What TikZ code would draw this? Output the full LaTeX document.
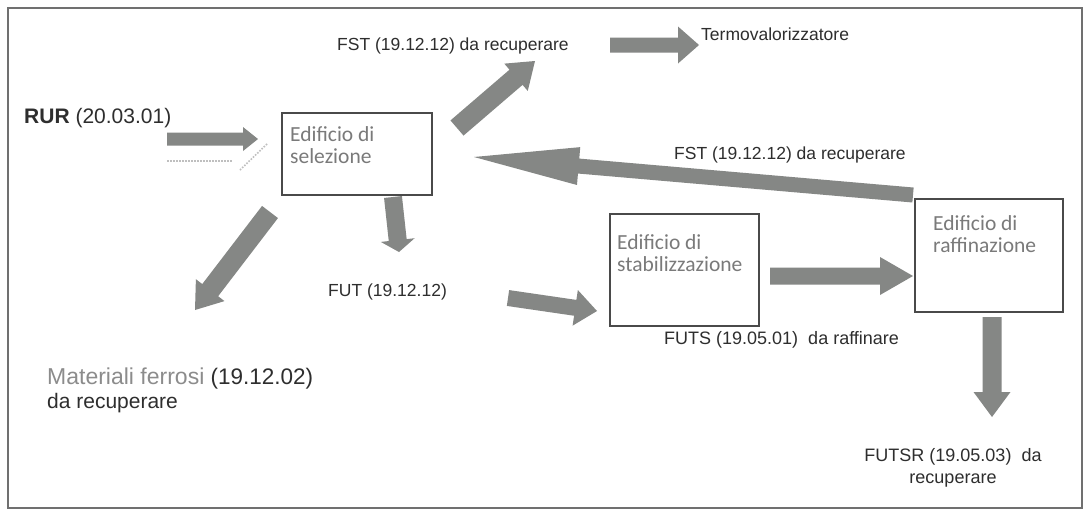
\documentclass[tikz,border=0pt]{standalone}
\usepackage{fontspec}
\setmainfont{Liberation Sans}
\newfontfamily\boxfont{Carlito}
\usetikzlibrary{calc}
\definecolor{arrowgray}{HTML}{858785}
\definecolor{boxline}{HTML}{4A4A4A}
\definecolor{framegray}{HTML}{707070}
\definecolor{txt}{HTML}{2E2E2E}
\definecolor{boxtxt}{HTML}{7A7A7A}
\definecolor{lighttxt}{HTML}{8C8C8C}
\newcommand\blockarrow[5]{%
  \coordinate (bh) at ($(#2)!#5!(#1)$);
  \fill[arrowgray] ($(#1)!#3!90:(#2)$) -- ($(bh)!#3!90:(#2)$) -- ($(bh)!#4!90:(#2)$) -- (#2)
    -- ($(bh)!#4!-90:(#2)$) -- ($(bh)!#3!-90:(#2)$) -- ($(#1)!#3!-90:(#2)$) -- cycle;
}
\tikzset{
  boxnode/.style={draw=boxline, line width=2.6pt, inner sep=0},
  lbl/.style={font=\fontsize{17.5}{21}\selectfont, text=txt, inner sep=0, anchor=west},
  biglbl/.style={font=\fontsize{21}{25}\selectfont, text=txt, inner sep=0, anchor=west},
  boxtext/.style={font=\boxfont\fontsize{21.5}{22}\selectfont, text=boxtxt, inner sep=0, anchor=north west, align=left},
  scanmark/.style={draw=gray!50, line width=1.6pt, dash pattern=on 1.5pt off 1.5pt}
}
\begin{document}
\begin{tikzpicture}[x=1pt,y=-1pt]
\useasboundingbox (0,0) rectangle (1090,512);
\fill[white] (0,0) rectangle (1090,512);
\draw[framegray, line width=1.5pt] (8,8) rectangle (1082,508);

% boxes
\node[boxnode, minimum width=150pt, minimum height=82pt] (sel) at (357,154) {};
\node[boxnode, minimum width=149pt, minimum height=112pt] (stab) at (684.5,270) {};
\node[boxnode, minimum width=148pt, minimum height=113pt] (raff) at (989,255.5) {};
\node[boxtext] (selt) at (290,126) {Edificio di\\selezione};
\node[boxtext] (stabt) at (617,234) {Edificio di\\stabilizzazione};
\node[boxtext] (rafft) at (933,215) {Edificio di\\raffinazione};

% labels
\node[lbl] (fst1) at (337,46) {FST (19.12.12) da recuperare};
\node[lbl] (termo) at (701,34) {Termovalorizzatore};
\node[biglbl] (rur) at (24,118) {\textbf{RUR} (20.03.01)};
\node[lbl] (fst2) at (674,155) {FST (19.12.12) da recuperare};
\node[lbl] (fut) at (328,292) {FUT (19.12.12)};
\node[biglbl, font=\fontsize{22.5}{25}\selectfont] (mat1) at (47,378) {{\color{lighttxt}\fontsize{23}{25}\selectfont Materiali ferrosi}\ (19.12.02)};
\node[biglbl] (mat2) at (47,403) {da recuperare};
\node[lbl, font=\fontsize{18}{21}\selectfont] (futs) at (664,340) {FUTS (19.05.01)\ \ da raffinare};
\node[lbl, font=\fontsize{18}{22}\selectfont, anchor=center, align=center] (futsr) at (953,468) {FUTSR (19.05.03)\ \ da\\recuperare};

% arrow end points
\coordinate (a1s) at (167,139); \coordinate (a1e) at (258,139);
\coordinate (a2s) at (457,128); \coordinate (a2e) at (535,61);
\coordinate (a3s) at (610,45);  \coordinate (a3e) at (699,45);
\coordinate (a4s) at (913,195); \coordinate (a4e) at (474,157);
\coordinate (a5s) at (393,197); \coordinate (a5e) at (399,252);
\coordinate (a6s) at (270,212); \coordinate (a6e) at (195,310);
\coordinate (a7s) at (508,298); \coordinate (a7e) at (597,311);
\coordinate (a8s) at (770,276); \coordinate (a8e) at (913,276);
\coordinate (a9s) at (992,317); \coordinate (a9e) at (992,417);

\blockarrow{a1s}{a1e}{6.5pt}{12pt}{15pt}
\blockarrow{a2s}{a2e}{10pt}{18pt}{25pt}
\blockarrow{a3s}{a3e}{7.5pt}{18.5pt}{21pt}
\blockarrow{a4s}{a4e}{7.5pt}{19pt}{105pt}
\blockarrow{a5s}{a5e}{9pt}{17pt}{12pt}
\blockarrow{a6s}{a6e}{10pt}{18pt}{25pt}
\blockarrow{a7s}{a7e}{8pt}{18pt}{22pt}
\blockarrow{a8s}{a8e}{8.5pt}{19pt}{33pt}
\blockarrow{a9s}{a9e}{9.5pt}{18.5pt}{25pt}

% faint scan marks under the RUR arrow
\coordinate (m1) at (167,161); \coordinate (m2) at (232,161);
\coordinate (m3) at (240,170); \coordinate (m4) at (268,143);
\draw[scanmark] (m1) -- (m2);
\draw[scanmark] (m3) -- (m4);
\end{tikzpicture}
\end{document}
